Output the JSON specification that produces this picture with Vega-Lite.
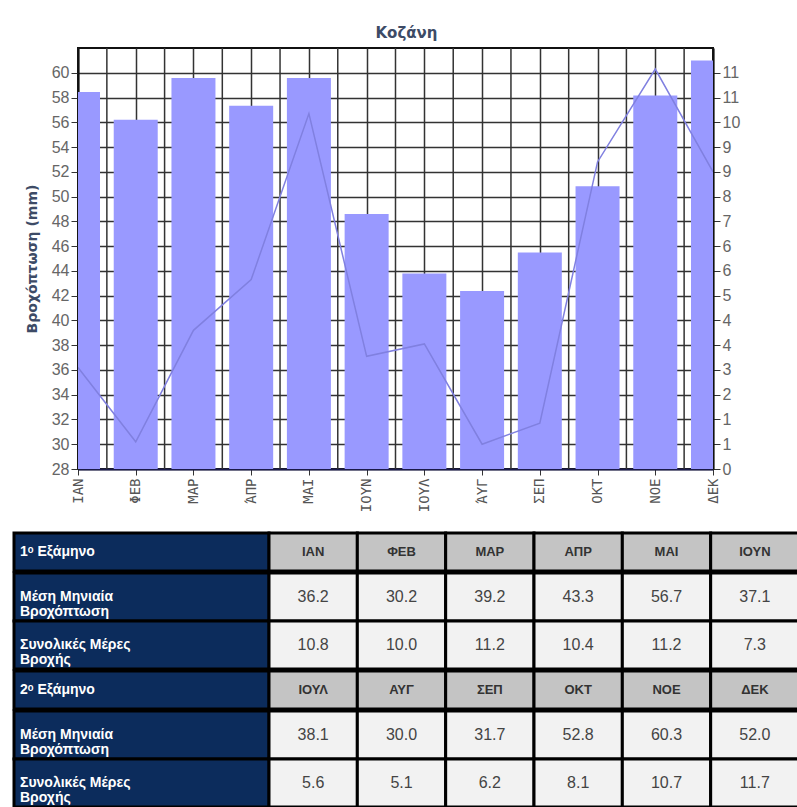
{
  "$schema": "https://vega.github.io/schema/vega-lite/v6.json",
  "padding": {"left": 12, "top": 26, "right": 0, "bottom": 0},
  "background": "white",
  "title": {"text": "Κοζάνη", "anchor": "middle", "font": "DejaVu Sans", "fontSize": 15, "fontWeight": "bold", "color": "#3d4b66", "offset": 6},
  "datasets": {
    "months": [
      {"m": "ΙΑΝ", "precip": 36.2, "days": 10.8, "sem": 1},
      {"m": "ΦΕΒ", "precip": 30.2, "days": 10.0, "sem": 1},
      {"m": "ΜΑΡ", "precip": 39.2, "days": 11.2, "sem": 1},
      {"m": "ΑΠΡ", "precip": 43.3, "days": 10.4, "sem": 1},
      {"m": "ΜΑΙ", "precip": 56.7, "days": 11.2, "sem": 1},
      {"m": "ΙΟΥΝ", "precip": 37.1, "days": 7.3, "sem": 1},
      {"m": "ΙΟΥΛ", "precip": 38.1, "days": 5.6, "sem": 2},
      {"m": "ΑΥΓ", "precip": 30.0, "days": 5.1, "sem": 2},
      {"m": "ΣΕΠ", "precip": 31.7, "days": 6.2, "sem": 2},
      {"m": "ΟΚΤ", "precip": 52.8, "days": 8.1, "sem": 2},
      {"m": "ΝΟΕ", "precip": 60.3, "days": 10.7, "sem": 2},
      {"m": "ΔΕΚ", "precip": 52.0, "days": 11.7, "sem": 2}
    ],
    "head1": [{"r": "h", "t": "1ᵒ Εξάμηνο"}],
    "head2": [{"r": "h", "t": "2ᵒ Εξάμηνο"}],
    "rowlabels": [
      {"r": "p", "t": "Μέση Μηνιαία\nΒροχόπτωση"},
      {"r": "d", "t": "Συνολικές Μέρες\nΒροχής"}
    ],
    "empty": []
  },
  "spacing": 18,
  "vconcat": [
    {
      "spacing": 9,
      "hconcat": [
        {
          "width": 1, "height": 1,
          "view": {"stroke": null},
          "data": {"name": "empty"},
          "mark": {"type": "point", "opacity": 0},
          "encoding": {}
        },
        {
          "width": 635,
          "height": 421,
          "data": {"name": "months"},
          "view": {"stroke": "#111", "strokeWidth": 2},
          "encoding": {
            "x": {
              "field": "m", "type": "nominal", "sort": null,
              "scale": {"type": "point", "padding": 0},
              "axis": {
                "title": null, "labelAngle": 270, "labelFont": "DejaVu Sans Mono", "labelFontSize": 14,
                "labelColor": "#555", "labelPadding": 3, "tickSize": 6, "tickColor": "#333",
                "domainColor": "#1a1a4a", "domainWidth": 2,
                "grid": true, "gridColor": "#333", "gridWidth": 1.5, "gridOpacity": 1,
                "labelExpr": "datum.value == 'ΑΠΡ' ? 'ΆΠΡ' : datum.value == 'ΑΥΓ' ? 'ΆΥΓ' : datum.value"
              }
            }
          },
          "layer": [
            {
              "mark": {"type": "rule", "color": "#333", "strokeWidth": 1.5, "xOffset": 28.86, "clip": true},
              "encoding": {}
            },
            {
              "mark": {"type": "bar", "width": 44, "color": "#9999ff", "clip": true},
              "encoding": {
                "y": {
                  "field": "days", "type": "quantitative",
                  "scale": {"domain": [0, 12.057], "nice": false, "zero": true},
                  "axis": {
                    "orient": "right", "title": null, "grid": false, "format": ".0f",
                    "values": [0, 0.709, 1.418, 2.127, 2.836, 3.545, 4.254, 4.963, 5.672, 6.381, 7.09, 7.799, 8.508, 9.217, 9.926, 10.635, 11.344],
                    "labelFont": "Liberation Sans Narrow, Liberation Sans", "labelFontSize": 16, "labelColor": "#666",
                    "tickSize": 7, "tickColor": "#333", "labelPadding": 2, "domainColor": "#111", "domainWidth": 2
                  }
                }
              }
            },
            {
              "mark": {"type": "line", "color": "#8080e0", "strokeWidth": 1.5, "clip": true},
              "encoding": {
                "y": {
                  "field": "precip", "type": "quantitative",
                  "scale": {"domain": [28, 62], "nice": false, "zero": false},
                  "axis": {
                    "orient": "left", "title": "Βροχόπτωση  (mm)",
                    "values": [28, 30, 32, 34, 36, 38, 40, 42, 44, 46, 48, 50, 52, 54, 56, 58, 60],
                    "grid": true, "gridColor": "#333", "gridWidth": 1.5, "gridOpacity": 1,
                    "labelFont": "Liberation Sans Narrow, Liberation Sans", "labelFontSize": 16, "labelColor": "#666",
                    "tickSize": 7, "tickColor": "#333", "labelPadding": 2, "domainColor": "#111", "domainWidth": 2,
                    "titleFont": "DejaVu Sans", "titleFontSize": 14, "titleFontWeight": "bold", "titleColor": "#3d4b66",
                    "titlePadding": 12
                  }
                }
              }
            }
          ],
          "resolve": {"scale": {"y": "independent"}}
        }
      ]
    },
    {
      "spacing": -3,
      "vconcat": [
        {
          "spacing": 0, "bounds": "flush",
          "hconcat": [
            {
              "width": 255, "height": 38, "view": {"stroke": null},
              "data": {"name": "head1"},
              "encoding": {"y": {"field": "r", "type": "nominal", "scale": {"type": "band", "domain": ["h"], "paddingInner": 0, "paddingOuter": 0}, "axis": null}},
              "layer": [
                {"mark": {"type": "rect", "fill": "#0c2c5c", "stroke": "#000", "strokeWidth": 3}},
                {"mark": {"type": "text", "align": "left", "font": "Liberation Sans", "fontWeight": "bold", "fontSize": 14, "color": "white", "dx": 6},
                 "encoding": {"x": {"datum": 0, "type": "quantitative", "scale": {"domain": [0, 1]}, "axis": null}, "text": {"field": "t"}}}
              ]
            },
            {
              "width": 530, "height": 38, "view": {"stroke": null},
              "data": {"name": "months"},
              "transform": [{"filter": "datum.sem == 1"}],
              "encoding": {
                "x": {"field": "m", "type": "nominal", "sort": null, "scale": {"type": "band", "paddingInner": 0, "paddingOuter": 0}, "axis": null},
                "y": {"datum": "h", "type": "nominal", "scale": {"type": "band", "domain": ["h"], "paddingInner": 0, "paddingOuter": 0}, "axis": null}
              },
              "layer": [
                {"mark": {"type": "rect", "fill": "#c4c4c4", "stroke": "#000", "strokeWidth": 3}},
                {"mark": {"type": "text", "font": "Liberation Sans", "fontSize": 13, "fontWeight": "bold", "color": "#333"}, "encoding": {"text": {"field": "m"}}}
              ]
            }
          ]
        },
        {
          "spacing": 0, "bounds": "flush",
          "hconcat": [
            {
              "width": 255, "height": 96, "view": {"stroke": null},
              "data": {"name": "rowlabels"},
              "encoding": {"y": {"field": "r", "type": "nominal", "sort": null, "scale": {"type": "band", "domain": ["p", "d"], "paddingInner": 0, "paddingOuter": 0}, "axis": null}},
              "layer": [
                {"mark": {"type": "rect", "fill": "#0c2c5c", "stroke": "#000", "strokeWidth": 3}},
                {"mark": {"type": "text", "align": "left", "lineBreak": "\n", "lineHeight": 15, "font": "Liberation Sans", "fontWeight": "bold", "fontSize": 14, "color": "white", "dx": 6},
                 "encoding": {"x": {"datum": 0, "type": "quantitative", "scale": {"domain": [0, 1]}, "axis": null}, "text": {"field": "t"}}}
              ]
            },
            {
              "width": 530, "height": 96, "view": {"stroke": null},
              "data": {"name": "months"},
              "transform": [{"filter": "datum.sem == 1"}],
              "encoding": {
                "x": {"field": "m", "type": "nominal", "sort": null, "scale": {"type": "band", "paddingInner": 0, "paddingOuter": 0}, "axis": null}
              },
              "layer": [
                {"mark": {"type": "rect", "fill": "#f2f2f2", "stroke": "#000", "strokeWidth": 3},
                 "encoding": {"y": {"datum": "p", "type": "nominal", "scale": {"type": "band", "domain": ["p", "d"], "paddingInner": 0, "paddingOuter": 0}, "axis": null}}},
                {"mark": {"type": "text", "font": "Liberation Sans", "fontSize": 16, "color": "#444"},
                 "encoding": {"y": {"datum": "p", "type": "nominal"}, "text": {"field": "precip", "format": ".1f"}}},
                {"mark": {"type": "rect", "fill": "#f2f2f2", "stroke": "#000", "strokeWidth": 3},
                 "encoding": {"y": {"datum": "d", "type": "nominal"}}},
                {"mark": {"type": "text", "font": "Liberation Sans", "fontSize": 16, "color": "#444"},
                 "encoding": {"y": {"datum": "d", "type": "nominal"}, "text": {"field": "days", "format": ".1f"}}}
              ]
            }
          ]
        },
        {
          "spacing": 0, "bounds": "flush",
          "hconcat": [
            {
              "width": 255, "height": 38, "view": {"stroke": null},
              "data": {"name": "head2"},
              "encoding": {"y": {"field": "r", "type": "nominal", "scale": {"type": "band", "domain": ["h"], "paddingInner": 0, "paddingOuter": 0}, "axis": null}},
              "layer": [
                {"mark": {"type": "rect", "fill": "#0c2c5c", "stroke": "#000", "strokeWidth": 3}},
                {"mark": {"type": "text", "align": "left", "font": "Liberation Sans", "fontWeight": "bold", "fontSize": 14, "color": "white", "dx": 6},
                 "encoding": {"x": {"datum": 0, "type": "quantitative", "scale": {"domain": [0, 1]}, "axis": null}, "text": {"field": "t"}}}
              ]
            },
            {
              "width": 530, "height": 38, "view": {"stroke": null},
              "data": {"name": "months"},
              "transform": [{"filter": "datum.sem == 2"}],
              "encoding": {
                "x": {"field": "m", "type": "nominal", "sort": null, "scale": {"type": "band", "paddingInner": 0, "paddingOuter": 0}, "axis": null},
                "y": {"datum": "h", "type": "nominal", "scale": {"type": "band", "domain": ["h"], "paddingInner": 0, "paddingOuter": 0}, "axis": null}
              },
              "layer": [
                {"mark": {"type": "rect", "fill": "#c4c4c4", "stroke": "#000", "strokeWidth": 3}},
                {"mark": {"type": "text", "font": "Liberation Sans", "fontSize": 13, "fontWeight": "bold", "color": "#333"}, "encoding": {"text": {"field": "m"}}}
              ]
            }
          ]
        },
        {
          "spacing": 0, "bounds": "flush",
          "hconcat": [
            {
              "width": 255, "height": 96, "view": {"stroke": null},
              "data": {"name": "rowlabels"},
              "encoding": {"y": {"field": "r", "type": "nominal", "sort": null, "scale": {"type": "band", "domain": ["p", "d"], "paddingInner": 0, "paddingOuter": 0}, "axis": null}},
              "layer": [
                {"mark": {"type": "rect", "fill": "#0c2c5c", "stroke": "#000", "strokeWidth": 3}},
                {"mark": {"type": "text", "align": "left", "lineBreak": "\n", "lineHeight": 15, "font": "Liberation Sans", "fontWeight": "bold", "fontSize": 14, "color": "white", "dx": 6},
                 "encoding": {"x": {"datum": 0, "type": "quantitative", "scale": {"domain": [0, 1]}, "axis": null}, "text": {"field": "t"}}}
              ]
            },
            {
              "width": 530, "height": 96, "view": {"stroke": null},
              "data": {"name": "months"},
              "transform": [{"filter": "datum.sem == 2"}],
              "encoding": {
                "x": {"field": "m", "type": "nominal", "sort": null, "scale": {"type": "band", "paddingInner": 0, "paddingOuter": 0}, "axis": null}
              },
              "layer": [
                {"mark": {"type": "rect", "fill": "#f2f2f2", "stroke": "#000", "strokeWidth": 3},
                 "encoding": {"y": {"datum": "p", "type": "nominal", "scale": {"type": "band", "domain": ["p", "d"], "paddingInner": 0, "paddingOuter": 0}, "axis": null}}},
                {"mark": {"type": "text", "font": "Liberation Sans", "fontSize": 16, "color": "#444"},
                 "encoding": {"y": {"datum": "p", "type": "nominal"}, "text": {"field": "precip", "format": ".1f"}}},
                {"mark": {"type": "rect", "fill": "#f2f2f2", "stroke": "#000", "strokeWidth": 3},
                 "encoding": {"y": {"datum": "d", "type": "nominal"}}},
                {"mark": {"type": "text", "font": "Liberation Sans", "fontSize": 16, "color": "#444"},
                 "encoding": {"y": {"datum": "d", "type": "nominal"}, "text": {"field": "days", "format": ".1f"}}}
              ]
            }
          ]
        }
      ]
    }
  ]
}
